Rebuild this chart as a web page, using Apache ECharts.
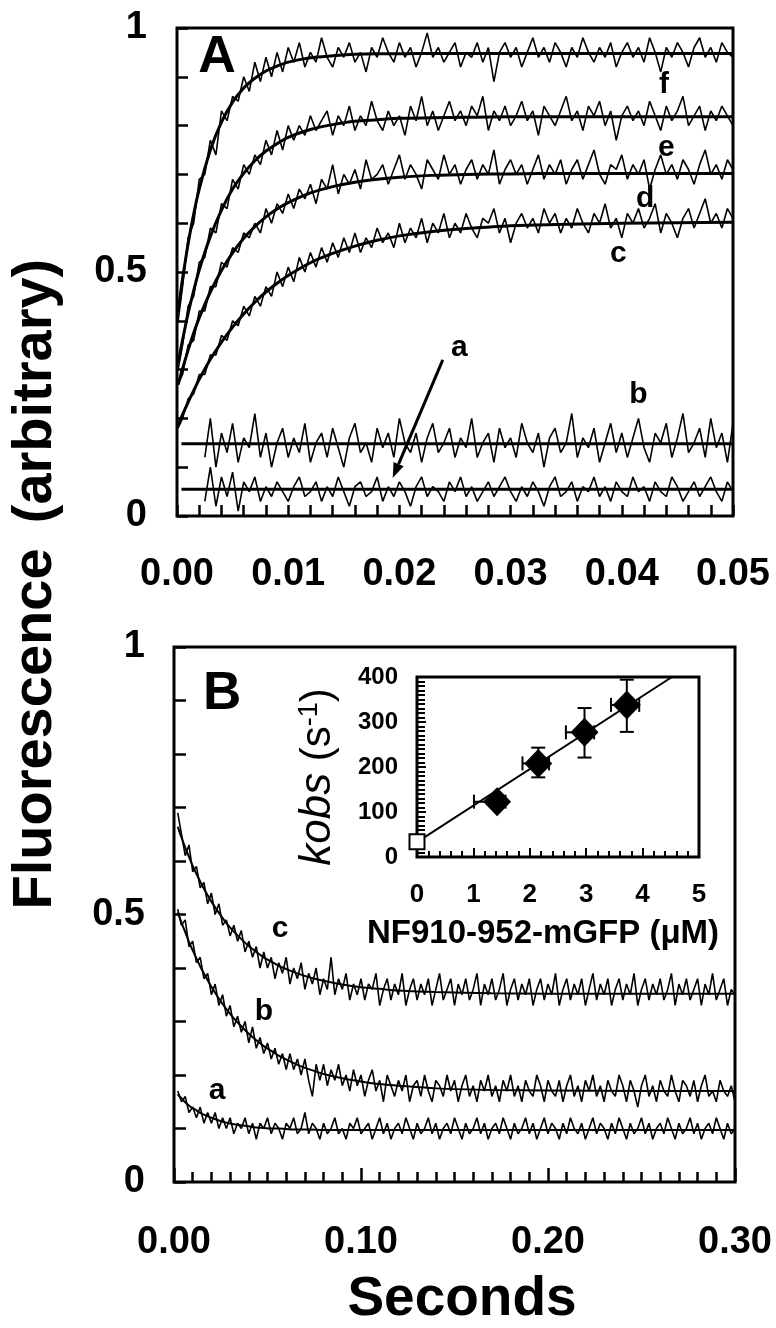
<!DOCTYPE html>
<html><head><meta charset="utf-8">
<script src="https://cdn.jsdelivr.net/npm/echarts@6/dist/echarts.min.js"></script>
<style>html,body{margin:0;padding:0;background:#fff}#c{width:776px;height:1328px}</style>
</head><body><div id="c"></div>
<script>
const FF = '"Liberation Sans", Arial, Helvetica, sans-serif';

// ---------- Panel A (0 - 0.05 s) ----------
const fitTA = [0.0001,0.0003,0.0005,0.001,0.0015,0.002,0.003,0.004,0.005,0.006,0.007,0.008,0.009,0.010,0.012,0.014,0.016,0.018,0.020,0.023,0.026,0.030,0.035,0.040,0.045,0.050];
const fitAf = [0.418,0.453,0.486,0.558,0.619,0.670,0.750,0.807,0.848,0.877,0.897,0.912,0.922,0.930,0.939,0.943,0.946,0.947,0.947,0.948,0.948,0.948,0.948,0.948,0.948,0.948];
const fitAe = [0.313,0.337,0.361,0.415,0.462,0.504,0.573,0.627,0.670,0.702,0.728,0.748,0.763,0.776,0.792,0.802,0.809,0.812,0.815,0.816,0.817,0.818,0.818,0.818,0.818,0.818];
const fitAd = [0.269,0.286,0.302,0.340,0.375,0.406,0.459,0.503,0.539,0.569,0.593,0.613,0.629,0.642,0.662,0.675,0.684,0.690,0.694,0.698,0.700,0.701,0.702,0.702,0.702,0.702];
const fitAc = [0.186,0.197,0.208,0.233,0.257,0.280,0.321,0.356,0.387,0.414,0.438,0.459,0.477,0.493,0.519,0.538,0.553,0.565,0.574,0.583,0.589,0.595,0.598,0.600,0.601,0.602];
const fitTAflat = [0.0004,0.050];
const fitAb = [0.148,0.148];
const fitAa = [0.055,0.055];

// raw traces: first value at 0.1 ms, then every 0.5 ms
const rawAheadT = 0.0001;
const rawA_t0 = 0.0005, rawA_dt = 0.0005, rawAab_t0 = 0.0025;
const rawAheadF = 0.40, rawAheadE = 0.30, rawAheadD = 0.27, rawAheadC = 0.18;
const rawAf = [0.47,0.57,0.60,0.69,0.70,0.77,0.74,0.83,0.81,0.86,0.85,0.90,0.87,0.93,0.89,0.94,0.90,0.95,0.91,0.96,
0.93,0.97,0.92,0.95,0.93,0.98,0.94,0.92,0.96,0.94,0.97,0.93,0.95,0.91,0.96,0.94,0.98,0.95,0.93,0.97,
0.94,0.96,0.92,0.95,0.99,0.94,0.96,0.93,0.95,0.97,0.92,0.95,0.94,0.97,0.93,0.96,0.89,0.95,0.97,0.94,
0.96,0.92,0.95,0.98,0.94,0.96,0.93,0.97,0.95,0.92,0.96,0.94,0.98,0.95,0.93,0.96,0.94,0.97,0.92,0.95,
0.97,0.94,0.96,0.93,0.98,0.95,0.91,0.96,0.94,0.97,0.95,0.92,0.96,0.98,0.94,0.96,0.93,0.97,0.95,0.94];
const rawAe = [0.35,0.43,0.45,0.52,0.53,0.59,0.58,0.64,0.63,0.69,0.67,0.72,0.70,0.74,0.72,0.77,0.74,0.79,0.75,0.80,
0.77,0.80,0.78,0.82,0.79,0.81,0.83,0.78,0.82,0.80,0.84,0.79,0.82,0.80,0.85,0.81,0.79,0.83,0.80,0.82,
0.78,0.84,0.81,0.86,0.80,0.83,0.79,0.82,0.85,0.81,0.83,0.80,0.84,0.82,0.86,0.79,0.83,0.81,0.84,0.80,
0.82,0.85,0.81,0.83,0.78,0.84,0.82,0.80,0.83,0.86,0.81,0.83,0.79,0.84,0.82,0.85,0.80,0.83,0.77,0.82,
0.84,0.81,0.83,0.80,0.85,0.82,0.79,0.84,0.81,0.83,0.86,0.80,0.82,0.84,0.79,0.83,0.81,0.84,0.82,0.80];
const rawAd = [0.29,0.35,0.36,0.42,0.42,0.47,0.47,0.52,0.51,0.55,0.54,0.58,0.57,0.60,0.58,0.63,0.60,0.64,0.62,0.66,
0.63,0.67,0.65,0.68,0.64,0.69,0.67,0.72,0.66,0.70,0.68,0.71,0.67,0.73,0.69,0.70,0.72,0.68,0.71,0.74,
0.69,0.72,0.70,0.67,0.73,0.71,0.69,0.74,0.70,0.72,0.68,0.71,0.73,0.69,0.72,0.70,0.75,0.68,0.71,0.73,
0.70,0.72,0.68,0.71,0.74,0.69,0.72,0.70,0.73,0.68,0.71,0.73,0.69,0.72,0.75,0.70,0.68,0.72,0.71,0.74,
0.69,0.72,0.70,0.73,0.67,0.71,0.74,0.70,0.72,0.69,0.73,0.71,0.68,0.72,0.75,0.70,0.72,0.69,0.73,0.71];
const rawAc = [0.20,0.24,0.25,0.29,0.29,0.33,0.33,0.37,0.36,0.40,0.39,0.43,0.41,0.45,0.43,0.47,0.45,0.50,0.47,0.51,
0.48,0.53,0.50,0.54,0.51,0.55,0.52,0.56,0.53,0.57,0.54,0.58,0.54,0.57,0.55,0.59,0.56,0.58,0.55,0.60,
0.56,0.59,0.57,0.61,0.56,0.60,0.58,0.62,0.57,0.60,0.58,0.62,0.59,0.57,0.61,0.60,0.63,0.58,0.61,0.56,
0.60,0.62,0.59,0.61,0.58,0.63,0.60,0.62,0.58,0.61,0.59,0.63,0.60,0.58,0.62,0.60,0.64,0.59,0.61,0.57,
0.62,0.60,0.63,0.59,0.61,0.64,0.58,0.62,0.60,0.57,0.61,0.63,0.59,0.62,0.65,0.60,0.62,0.59,0.63,0.61];
const rawAb = [0.12,0.20,0.10,0.17,0.13,0.19,0.11,0.16,0.14,0.21,0.12,0.17,0.10,0.15,0.18,0.12,0.16,0.13,0.19,0.11,
0.15,0.17,0.12,0.18,0.14,0.10,0.16,0.19,0.13,0.15,0.11,0.18,0.14,0.17,0.12,0.20,0.15,0.13,0.17,0.11,
0.16,0.19,0.13,0.15,0.18,0.12,0.16,0.14,0.20,0.12,0.15,0.17,0.11,0.18,0.14,0.16,0.12,0.19,0.15,0.13,
0.17,0.10,0.16,0.18,0.13,0.15,0.21,0.12,0.16,0.14,0.18,0.11,0.15,0.19,0.13,0.17,0.12,0.16,0.20,0.14,
0.11,0.17,0.15,0.19,0.12,0.16,0.21,0.13,0.15,0.18,0.12,0.20,0.14,0.17,0.11,0.19];
const rawAa = [0.03,0.10,0.02,0.08,0.04,0.09,0.01,0.07,0.05,0.08,0.03,0.06,0.04,0.07,0.05,0.03,0.06,0.08,0.04,0.05,
0.07,0.03,0.06,0.04,0.08,0.05,0.02,0.06,0.07,0.04,0.05,0.08,0.03,0.06,0.04,0.07,0.05,0.02,0.06,0.08,
0.04,0.06,0.05,0.03,0.07,0.05,0.08,0.04,0.06,0.03,0.05,0.07,0.04,0.06,0.08,0.05,0.03,0.06,0.04,0.07,
0.05,0.02,0.06,0.08,0.04,0.05,0.07,0.03,0.06,0.05,0.08,0.04,0.06,0.03,0.07,0.05,0.04,0.08,0.05,0.06,
0.03,0.07,0.05,0.04,0.08,0.06,0.03,0.05,0.07,0.04,0.06,0.08,0.05,0.03,0.07,0.05];

// ---------- Panel B (0 - 0.30 s) ----------
const fitTB = [0.002,0.004,0.006,0.008,0.010,0.012,0.014,0.016,0.018,0.020,0.024,0.028,0.032,0.036,0.040,0.044,0.048,0.052,0.056,0.060,0.066,0.072,0.080,0.090,0.100,0.110,0.120,0.140,0.170,0.200,0.250,0.300];
const fitBc = [0.664,0.644,0.625,0.608,0.591,0.576,0.562,0.548,0.536,0.524,0.503,0.484,0.468,0.454,0.441,0.430,0.420,0.412,0.404,0.398,0.390,0.383,0.376,0.369,0.364,0.361,0.358,0.355,0.353,0.352,0.352,0.352];
const fitBb = [0.504,0.485,0.467,0.449,0.433,0.418,0.403,0.390,0.377,0.365,0.343,0.323,0.306,0.291,0.277,0.265,0.254,0.245,0.236,0.229,0.219,0.211,0.202,0.194,0.188,0.183,0.180,0.175,0.172,0.171,0.170,0.170];
const fitBa = [0.164,0.156,0.149,0.143,0.138,0.134,0.129,0.126,0.123,0.120,0.115,0.111,0.108,0.106,0.104,0.102,0.101,0.100,0.100,0.099,0.098,0.098,0.097,0.097,0.097,0.097,0.097,0.097,0.097,0.097,0.097,0.097];

const rawB_t0 = 0.002, rawB_dt = 0.002;
const rawBc = [0.69,0.65,0.61,0.63,0.58,0.59,0.55,0.56,0.52,0.54,0.50,0.52,0.48,0.49,0.46,0.48,0.45,0.47,0.43,0.45,
0.42,0.44,0.40,0.43,0.40,0.42,0.38,0.41,0.39,0.42,0.37,0.40,0.38,0.41,0.36,0.39,0.37,0.40,0.35,0.38,
0.36,0.42,0.35,0.38,0.36,0.39,0.34,0.37,0.35,0.38,0.34,0.37,0.36,0.39,0.33,0.36,0.38,0.34,0.37,0.35,
0.39,0.33,0.36,0.38,0.34,0.37,0.35,0.38,0.33,0.36,0.39,0.34,0.36,0.38,0.33,0.37,0.35,0.38,0.34,0.36,
0.39,0.33,0.37,0.35,0.38,0.34,0.36,0.39,0.33,0.36,0.38,0.34,0.37,0.35,0.38,0.33,0.36,0.38,0.34,0.37,
0.35,0.39,0.33,0.36,0.38,0.34,0.37,0.35,0.38,0.33,0.36,0.39,0.34,0.37,0.35,0.38,0.33,0.36,0.38,0.34,
0.37,0.35,0.39,0.33,0.36,0.38,0.34,0.37,0.35,0.38,0.34,0.36,0.39,0.33,0.37,0.35,0.38,0.34,0.36,0.38,
0.33,0.37,0.35,0.39,0.34,0.36,0.38,0.33,0.36,0.35];
const rawBb = [0.51,0.48,0.49,0.44,0.45,0.41,0.42,0.38,0.39,0.35,0.37,0.33,0.35,0.31,0.33,0.29,0.31,0.28,0.30,0.26,
0.29,0.25,0.27,0.24,0.26,0.23,0.25,0.22,0.24,0.21,0.24,0.21,0.23,0.20,0.23,0.19,0.16,0.22,0.19,0.22,
0.18,0.21,0.19,0.22,0.18,0.20,0.17,0.21,0.18,0.20,0.16,0.19,0.21,0.17,0.19,0.15,0.20,0.18,0.16,0.19,
0.17,0.20,0.15,0.18,0.19,0.16,0.20,0.17,0.15,0.19,0.18,0.16,0.20,0.17,0.19,0.15,0.18,0.20,0.16,0.18,
0.15,0.19,0.17,0.20,0.16,0.18,0.15,0.19,0.17,0.20,0.16,0.18,0.15,0.19,0.17,0.16,0.20,0.18,0.15,0.19,
0.17,0.16,0.19,0.15,0.18,0.20,0.16,0.18,0.15,0.19,0.17,0.20,0.16,0.18,0.15,0.19,0.17,0.16,0.20,0.18,
0.15,0.19,0.17,0.14,0.18,0.20,0.16,0.18,0.15,0.19,0.17,0.16,0.20,0.17,0.15,0.19,0.18,0.16,0.19,0.15,
0.18,0.20,0.16,0.17,0.15,0.19,0.17,0.16,0.18,0.15];
const rawBa = [0.17,0.15,0.16,0.13,0.14,0.12,0.14,0.11,0.13,0.11,0.13,0.10,0.12,0.10,0.12,0.09,0.11,0.10,0.12,0.09,
0.11,0.08,0.11,0.10,0.12,0.09,0.11,0.10,0.08,0.11,0.10,0.12,0.09,0.10,0.13,0.09,0.11,0.10,0.08,0.11,
0.09,0.10,0.12,0.09,0.10,0.08,0.11,0.10,0.12,0.09,0.10,0.11,0.08,0.10,0.12,0.09,0.11,0.08,0.10,0.11,
0.09,0.12,0.10,0.08,0.11,0.09,0.10,0.12,0.09,0.11,0.08,0.10,0.11,0.09,0.12,0.10,0.08,0.11,0.09,0.10,
0.12,0.09,0.11,0.08,0.10,0.11,0.09,0.12,0.10,0.08,0.11,0.09,0.10,0.12,0.09,0.11,0.08,0.10,0.12,0.09,
0.11,0.10,0.08,0.11,0.09,0.12,0.10,0.09,0.11,0.08,0.10,0.12,0.09,0.11,0.10,0.08,0.11,0.09,0.12,0.10,
0.08,0.11,0.09,0.10,0.12,0.09,0.11,0.08,0.10,0.11,0.09,0.12,0.10,0.08,0.11,0.09,0.10,0.12,0.09,0.11,
0.08,0.10,0.11,0.09,0.12,0.10,0.08,0.11,0.09,0.10];

// ---------- Inset: kobs vs concentration ----------
const insetConc = [1.42, 2.15, 2.97, 3.72];
const insetKobs = [123, 208, 277, 338];
const insetXLo = [1.01, 1.87, 2.64, 3.44];
const insetXHi = [1.57, 2.34, 3.14, 3.94];
const insetYLo = [111, 177, 221, 278];
const insetYHi = [135, 243, 331, 394];
const insetOpenX = [0], insetOpenY = [34];
const insetFitX = [0, 4.52], insetFitY = [33, 400];

// tick labels
const xLabelsA = ['0.00','0.01','0.02','0.03','0.04','0.05'];
const xLabelsB = ['0.00','0.10','0.20','0.30'];

const zip = (xs, ys) => ys.map((y, i) => [xs[i], y]);
const sampled = (t0, dt, ys) => ys.map((y, i) => [+(t0 + dt * i).toFixed(5), y]);
const withHead = (t, v, rest) => [[t, v]].concat(rest);

const tickStyle = w => ({ color: '#000', width: w });
const yLab = v => Math.abs(v - 1) < 1e-9 ? '1' : Math.abs(v - 0.5) < 1e-9 ? '0.5' : Math.abs(v) < 1e-9 ? '0' : '';
const bigLabel = { fontFamily: FF, fontWeight: 'bold', fontSize: 38, color: '#000' };

function raw(g, data) {
  return { type: 'line', xAxisIndex: g, yAxisIndex: g, data, symbol: 'none', lineStyle: { color: '#000', width: 1.6 }, z: 2, silent: true };
}
function fit(g, data, w) {
  return { type: 'line', xAxisIndex: g, yAxisIndex: g, data, symbol: 'none', smooth: 0.3, lineStyle: { color: '#000', width: w }, z: 3, silent: true };
}

const option = {
  animation: false,
  backgroundColor: '#fff',
  grid: [
    { left: 177, top: 28, width: 556, height: 488, show: true, borderColor: '#000', borderWidth: 3, backgroundColor: 'transparent', containLabel: false, outerBoundsMode: 'none' },
    { left: 174, top: 647, width: 561, height: 535, show: true, borderColor: '#000', borderWidth: 3, backgroundColor: 'transparent', containLabel: false, outerBoundsMode: 'none' },
    { left: 417, top: 677, width: 282, height: 180, show: true, borderColor: '#000', borderWidth: 3, backgroundColor: 'transparent', containLabel: false, outerBoundsMode: 'none' }
  ],
  xAxis: [
    { gridIndex: 0, type: 'value', min: 0, max: 0.05, interval: 0.01,
      axisLine: { show: false }, splitLine: { show: false },
      axisTick: { show: true, inside: true, length: 11, lineStyle: tickStyle(2.5) },
      minorTick: { show: true, splitNumber: 5, length: 11, lineStyle: tickStyle(2.5) },
      axisLabel: Object.assign({}, bigLabel, { margin: 40, showMinLabel: true, showMaxLabel: true, formatter: (v) => xLabelsA[Math.round(v / 0.01)] }) },
    { gridIndex: 1, type: 'value', min: 0, max: 0.3, interval: 0.1,
      axisLine: { show: false }, splitLine: { show: false },
      axisTick: { show: true, inside: true, length: 14, lineStyle: tickStyle(2.5) },
      minorTick: { show: true, splitNumber: 10, length: 10, lineStyle: tickStyle(2.5) },
      axisLabel: Object.assign({}, bigLabel, { margin: 42, showMinLabel: true, showMaxLabel: true, formatter: (v) => xLabelsB[Math.round(v / 0.1)] }) },
    { gridIndex: 2, type: 'value', min: 0, max: 5, interval: 1,
      axisLine: { show: false }, splitLine: { show: false },
      axisTick: { show: true, inside: true, length: 9, lineStyle: tickStyle(2) },
      minorTick: { show: true, splitNumber: 5, length: 6, lineStyle: tickStyle(2) },
      axisLabel: { fontFamily: FF, fontWeight: 'bold', fontSize: 26, color: '#000', margin: 25, showMinLabel: true, showMaxLabel: true } }
  ],
  yAxis: [
    { gridIndex: 0, type: 'value', min: 0, max: 1, interval: 0.1,
      axisLine: { show: false }, splitLine: { show: false },
      axisTick: { show: true, inside: true, length: 11, lineStyle: tickStyle(2.5) },
      axisLabel: Object.assign({}, bigLabel, { margin: 30, showMinLabel: true, showMaxLabel: true, formatter: yLab }) },
    { gridIndex: 1, type: 'value', min: 0, max: 1, interval: 0.1,
      axisLine: { show: false }, splitLine: { show: false },
      axisTick: { show: true, inside: true, length: 12, lineStyle: tickStyle(2.5) },
      axisLabel: Object.assign({}, bigLabel, { margin: 29, showMinLabel: true, showMaxLabel: true, formatter: yLab }) },
    { gridIndex: 2, type: 'value', min: 0, max: 400, interval: 100,
      axisLine: { show: false }, splitLine: { show: false },
      axisTick: { show: true, inside: true, length: 9, lineStyle: tickStyle(2) },
      minorTick: { show: true, splitNumber: 10, length: 8, lineStyle: tickStyle(2) },
      axisLabel: { fontFamily: FF, fontWeight: 'bold', fontSize: 24, color: '#000', margin: 19, showMinLabel: true, showMaxLabel: true } }
  ],
  series: [
    raw(0, withHead(rawAheadT, rawAheadF, sampled(rawA_t0, rawA_dt, rawAf))),
    raw(0, withHead(rawAheadT, rawAheadE, sampled(rawA_t0, rawA_dt, rawAe))),
    raw(0, withHead(rawAheadT, rawAheadD, sampled(rawA_t0, rawA_dt, rawAd))),
    raw(0, withHead(rawAheadT, rawAheadC, sampled(rawA_t0, rawA_dt, rawAc))),
    raw(0, sampled(rawAab_t0, rawA_dt, rawAb)),
    raw(0, sampled(rawAab_t0, rawA_dt, rawAa)),
    fit(0, zip(fitTA, fitAf), 3),
    fit(0, zip(fitTA, fitAe), 3),
    fit(0, zip(fitTA, fitAd), 3),
    fit(0, zip(fitTA, fitAc), 3),
    fit(0, zip(fitTAflat, fitAb), 3),
    fit(0, zip(fitTAflat, fitAa), 3),
    raw(1, sampled(rawB_t0, rawB_dt, rawBc)),
    raw(1, sampled(rawB_t0, rawB_dt, rawBb)),
    raw(1, sampled(rawB_t0, rawB_dt, rawBa)),
    fit(1, zip(fitTB, fitBc), 2),
    fit(1, zip(fitTB, fitBb), 2),
    fit(1, zip(fitTB, fitBa), 2),
    { type: 'line', xAxisIndex: 2, yAxisIndex: 2, data: zip(insetFitX, insetFitY), symbol: 'none', lineStyle: { color: '#000', width: 2 }, z: 3, silent: true },
    { type: 'custom', xAxisIndex: 2, yAxisIndex: 2, z: 4, silent: true, clip: false,
      data: insetConc.map((x, i) => [x, insetKobs[i], insetXLo[i], insetXHi[i], insetYLo[i], insetYHi[i]]),
      renderItem: function (params, api) {
        const x = api.value(0), y = api.value(1);
        const a = api.coord([api.value(2), y]), b = api.coord([api.value(3), y]);
        const c = api.coord([x, api.value(4)]), d = api.coord([x, api.value(5)]);
        const cap = 7, st = { stroke: '#000', lineWidth: 2, fill: null };
        const L = (x1, y1, x2, y2) => ({ type: 'line', shape: { x1, y1, x2, y2 }, style: st });
        return { type: 'group', children: [
          L(a[0], a[1], b[0], b[1]), L(a[0], a[1] - cap, a[0], a[1] + cap), L(b[0], b[1] - cap, b[0], b[1] + cap),
          L(c[0], c[1], d[0], d[1]), L(c[0] - cap, c[1], c[0] + cap, c[1]), L(d[0] - cap, d[1], d[0] + cap, d[1])
        ] };
      } },
    { type: 'scatter', xAxisIndex: 2, yAxisIndex: 2, z: 5, silent: true, clip: false, symbol: 'diamond', symbolSize: [28, 29],
      itemStyle: { color: '#000', opacity: 1 }, data: zip(insetConc, insetKobs) },
    { type: 'scatter', xAxisIndex: 2, yAxisIndex: 2, z: 5, silent: true, clip: false, symbol: 'rect', symbolSize: 15,
      itemStyle: { color: '#fff', borderColor: '#000', borderWidth: 2, opacity: 1 }, data: zip(insetOpenX, insetOpenY) }
  ]
};

const chart = echarts.init(document.getElementById('c'), null, { renderer: 'canvas', width: 776, height: 1328 });
chart.setOption(option);

// annotations placed in data coordinates
const P = (g, pt) => chart.convertToPixel({ gridIndex: g }, pt);
function label(g, pt, txt, size) {
  const p = P(g, pt);
  return { type: 'text', x: p[0], y: p[1], z: 10, silent: true,
    style: { text: txt, font: 'bold ' + size + 'px ' + FF, fill: '#000', textAlign: 'center', textVerticalAlign: 'middle' } };
}
const arrowFrom = P(0, [0.0239, 0.32]), arrowTo = P(0, [0.0194, 0.078]);
const dx = arrowTo[0] - arrowFrom[0], dy = arrowTo[1] - arrowFrom[1], len = Math.hypot(dx, dy);
const ux = dx / len, uy = dy / len, hl = 15, hw = 5.5;
const bx = arrowTo[0] - ux * hl, by = arrowTo[1] - uy * hl;

chart.setOption({
  graphic: [
    label(0, [0.0036, 0.939], 'A', 52),
    label(1, [0.0257, 0.912], 'B', 53),
    label(0, [0.0438, 0.883], 'f', 30),
    label(0, [0.0440, 0.754], 'e', 30),
    label(0, [0.0421, 0.650], 'd', 30),
    label(0, [0.0397, 0.537], 'c', 30),
    label(0, [0.0254, 0.344], 'a', 30),
    label(0, [0.0415, 0.248], 'b', 30),
    label(1, [0.0567, 0.473], 'c', 30),
    label(1, [0.0481, 0.318], 'b', 30),
    label(1, [0.0230, 0.170], 'a', 30),
    { type: 'line', z: 10, silent: true, shape: { x1: arrowFrom[0], y1: arrowFrom[1], x2: bx, y2: by }, style: { stroke: '#000', lineWidth: 3 } },
    { type: 'polygon', z: 10, silent: true, shape: { points: [[arrowTo[0], arrowTo[1]], [bx - uy * hw, by + ux * hw], [bx + uy * hw, by - ux * hw]] }, style: { fill: '#000' } },
    // axis titles
    { type: 'text', x: 36, y: 729, rotation: Math.PI / 2, silent: true,
      style: { text: 'Fluorescence', font: 'bold 56px ' + FF, fill: '#000', textAlign: 'center', textVerticalAlign: 'middle' } },
    { type: 'text', x: 36, y: 391, rotation: Math.PI / 2, silent: true,
      style: { text: '(arbitrary)', font: 'bold 56px ' + FF, fill: '#000', textAlign: 'center', textVerticalAlign: 'middle' } },
    { type: 'text', x: 462, y: 1300, silent: true,
      style: { text: 'Seconds', font: 'bold 55px ' + FF, fill: '#000', textAlign: 'center', textVerticalAlign: 'middle' } },
    { type: 'text', x: 543, y: 934, silent: true,
      style: { text: 'NF910-952-mGFP (\u03bcM)', font: 'bold 33px ' + FF, fill: '#000', textAlign: 'center', textVerticalAlign: 'middle' } },
    { type: 'text', x: 318, y: 777, rotation: Math.PI / 2, silent: true,
      style: { text: '{k|kobs}{p| (s}{s|-1}{p|)}', fill: '#000', textAlign: 'center', textVerticalAlign: 'middle',
        rich: {
          k: { fontFamily: FF, fontStyle: 'italic', fontSize: 44, fill: '#000' },
          p: { fontFamily: FF, fontSize: 42, fill: '#000' },
          s: { fontFamily: FF, fontSize: 27, verticalAlign: 'top', fill: '#000' }
        } } }
  ]
});
</script></body></html>
